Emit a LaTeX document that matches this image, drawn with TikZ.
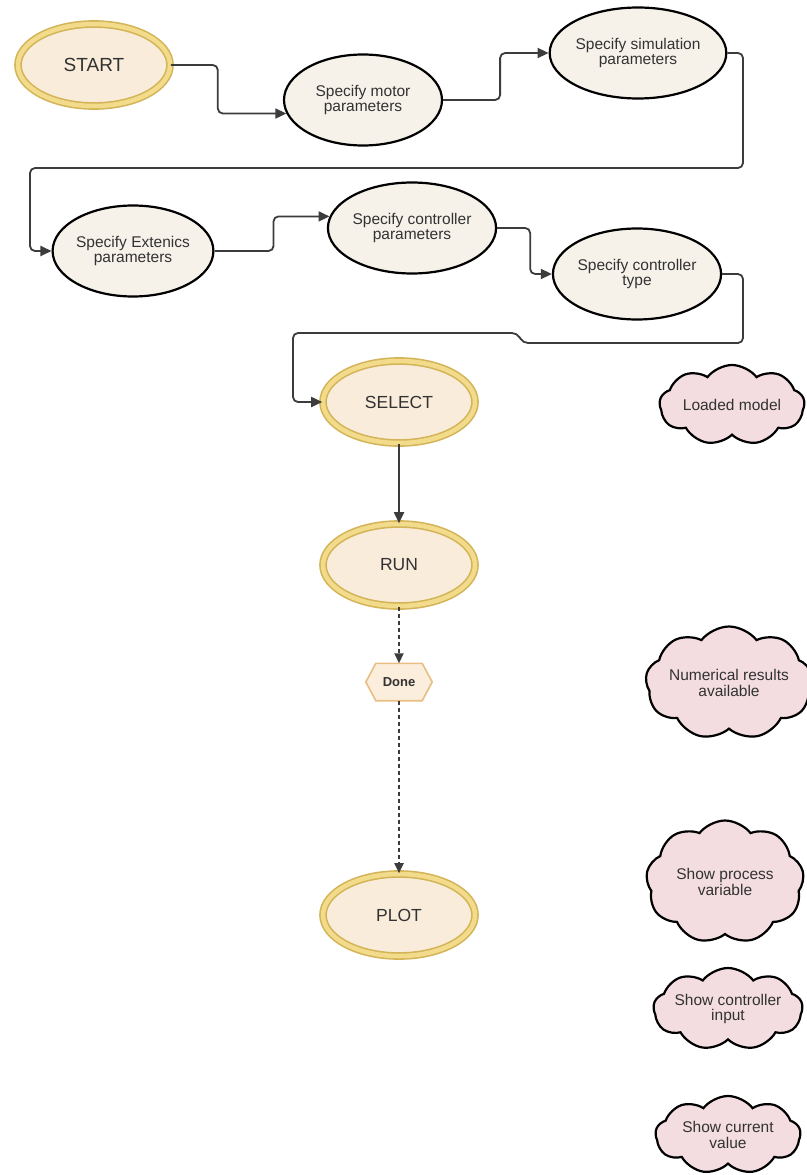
\documentclass[tikz,border=0pt]{standalone}
\usepackage{fontspec}
\setmainfont{Liberation Sans}
\usetikzlibrary{shapes.geometric,shapes.symbols,arrows.meta,backgrounds}
\definecolor{txt}{RGB}{50,50,50}
\definecolor{lnk}{RGB}{60,60,60}
\definecolor{specfill}{RGB}{246,242,234}
\definecolor{goldline}{RGB}{212,180,88}
\definecolor{goldband}{RGB}{242,220,140}
\definecolor{termfill}{RGB}{249,236,218}
\definecolor{hexline}{RGB}{232,190,130}
\definecolor{hexfill}{RGB}{252,238,220}
\definecolor{cloudfill}{RGB}{243,221,225}
\tikzset{
  lbl/.style={font=\fontsize{15.5}{15.5}\selectfont, text=txt, align=center},
  specbox/.style={lbl, ellipse, draw=black, line width=2.2pt, fill=specfill,
     minimum width=158pt, minimum height=91pt, inner sep=0pt},
  termbox/.style={ellipse, draw=goldline, line width=1.6pt, double=goldband,
     double distance=4.5pt, fill=termfill, minimum width=152pt, minimum height=82pt,
     inner sep=0pt, text=txt, font=\fontsize{17.5}{19}\selectfont},
  cloudbox/.style={lbl, cloud, cloud puffs=9, cloud puff arc=105, cloud ignores aspect,
     draw=black, line width=2.2pt, fill=cloudfill, inner sep=0pt},
  conn/.style={draw=lnk, line width=1.8pt, rounded corners=5pt,
     -{Triangle[length=11pt,width=10pt]}},
  dconn/.style={draw=lnk, line width=1.8pt, dash pattern=on 4pt off 3pt,
     -{Triangle[length=10pt,width=9pt]}},
}
\begin{document}
\begin{tikzpicture}[x=1pt,y=-1pt]
\useasboundingbox (0,0) rectangle (806,1175);

% terminals
\node[termbox, font=\fontsize{19}{20}\selectfont] (start) at (94,65) {START};
\node[termbox] (select) at (399,402) {SELECT};
\node[termbox] (run) at (399,565) {RUN};
\node[termbox] (plot) at (399,915) {PLOT};

% specify ellipses
\node[specbox] (motor) at (363,100) {Specify motor\\parameters};
\node[specbox] (sim) at (638,53) {Specify simulation\\parameters};
\node[specbox] (ext) at (133,251) {Specify Extenics\\parameters};
\node[specbox] (ctrl) at (412,228) {Specify controller\\parameters};
\node[specbox] (type) at (637,274) {Specify controller\\type};

% done hexagon
\node[font=\fontsize{13}{14}\selectfont\bfseries, text=txt, minimum width=66pt,
      minimum height=37pt, inner sep=0pt] (done) at (399,682) {Done};
\begin{scope}[on background layer]
\fill[white] (0,0) rectangle (806,1175);
\draw[draw=hexline, line width=1.6pt, fill=hexfill]
  (done.west) -- ([xshift=10pt]done.north west) -- ([xshift=-10pt]done.north east)
  -- (done.east) -- ([xshift=-10pt]done.south east) -- ([xshift=10pt]done.south west) -- cycle;
\end{scope}

% clouds
\node[cloudbox, minimum width=145pt, minimum height=80pt] (loaded) at (732,405) {Loaded model};
\node[cloudbox, minimum width=167pt, minimum height=113pt] (numres) at (729,683) {Numerical results\\available};
\node[cloudbox, minimum width=158pt, minimum height=123pt] (procvar) at (725,882) {Show process\\variable};
\node[cloudbox, minimum width=145pt, minimum height=82pt] (ctrlin) at (728,1009) {Show controller\\input};
\node[cloudbox, minimum width=145pt, minimum height=78pt] (curval) at (728,1135) {Show current\\value};

% helper coordinates
\coordinate (r1) at (743,168);
\coordinate (l1) at (30,168);
\coordinate (r2) at (743,343);
\coordinate (j1) at (523,343);
\coordinate (j2) at (517,333);
\coordinate (l2) at (293,333);

% connectors
\draw[conn] (start.east) -- ++(47,0) |- (motor.190);
\draw[conn] (motor.east) -- ++(57,0) |- (sim.west);
\draw[conn] (sim.east) -| (r1) -- (l1) |- (ext.west);
\draw[conn] (ext.east) -- ++(59,0) |- (ctrl.172);
\draw[conn] (ctrl.east) -- ++(33,0) |- (type.west);
\draw[conn] (type.east) -| (r2) -- (j1) -- (j2) -- (l2) |- (select.west);
\draw[conn] (select.south) -- (run.north);
\draw[dconn] (run.south) -- (done.north);
\draw[dconn] (done.south) -- (plot.north);
\end{tikzpicture}
\end{document}
